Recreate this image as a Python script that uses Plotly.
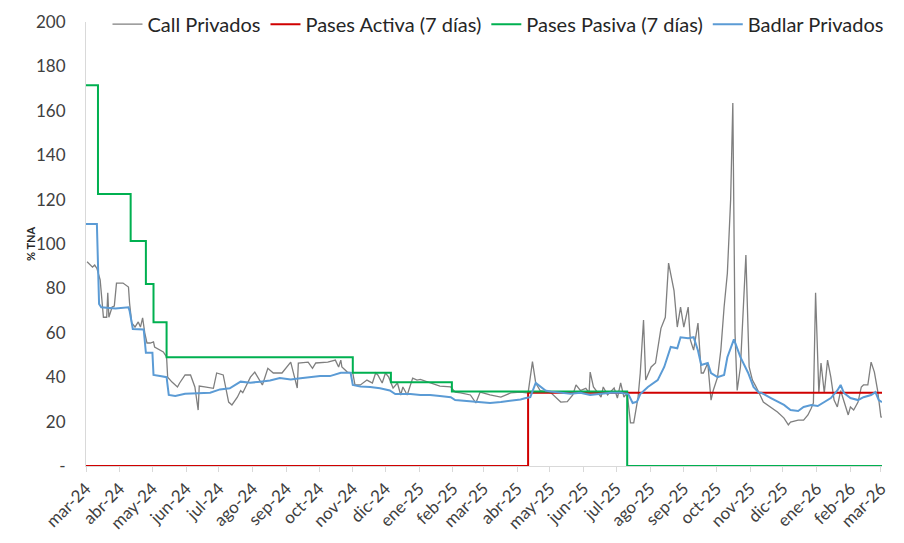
"""Tasas de interés: call, badlar y pases BCRA."""

import pandas as pd
import plotly.graph_objects as go

call_fechas = [
    "2024-03-02", "2024-03-07", "2024-03-09", "2024-03-11", "2024-03-14", "2024-03-16",
    "2024-03-17", "2024-03-20", "2024-03-21", "2024-03-22", "2024-03-25", "2024-03-27",
    "2024-03-29", "2024-04-04", "2024-04-09", "2024-04-10", "2024-04-12", "2024-04-15",
    "2024-04-18", "2024-04-20", "2024-04-22", "2024-04-24", "2024-04-26", "2024-04-29",
    "2024-05-02", "2024-05-03", "2024-05-11", "2024-05-14", "2024-05-15", "2024-05-19",
    "2024-05-24", "2024-05-26", "2024-05-31", "2024-06-05", "2024-06-09", "2024-06-12",
    "2024-06-13", "2024-06-18", "2024-06-26", "2024-06-29", "2024-07-05", "2024-07-10",
    "2024-07-13", "2024-07-18", "2024-07-21", "2024-07-23", "2024-07-27", "2024-07-30",
    "2024-08-03", "2024-08-10", "2024-08-15", "2024-08-20", "2024-08-28", "2024-09-05",
    "2024-09-11", "2024-09-12", "2024-09-21", "2024-09-25", "2024-09-28", "2024-10-09",
    "2024-10-16", "2024-10-19", "2024-10-21", "2024-10-22", "2024-10-27", "2024-11-01",
    "2024-11-03", "2024-11-08", "2024-11-14", "2024-11-19", "2024-11-22", "2024-11-24",
    "2024-11-28", "2024-12-01", "2024-12-04", "2024-12-08", "2024-12-12", "2024-12-15",
    "2024-12-17", "2024-12-21", "2024-12-26", "2024-12-30", "2025-01-02", "2025-01-11",
    "2025-01-20", "2025-01-30", "2025-02-03", "2025-02-08", "2025-02-17", "2025-02-22",
    "2025-02-26", "2025-03-07", "2025-03-17", "2025-03-26", "2025-04-04", "2025-04-11",
    "2025-04-15", "2025-04-18", "2025-04-22", "2025-05-02", "2025-05-11", "2025-05-17",
    "2025-05-22", "2025-05-25", "2025-05-29", "2025-06-03", "2025-06-06", "2025-06-07",
    "2025-06-10", "2025-06-17", "2025-06-19", "2025-06-23", "2025-06-29", "2025-07-02",
    "2025-07-05", "2025-07-08", "2025-07-11", "2025-07-14", "2025-07-17", "2025-07-21",
    "2025-07-23", "2025-07-26", "2025-07-28", "2025-08-02", "2025-08-06", "2025-08-11",
    "2025-08-15", "2025-08-18", "2025-08-23", "2025-08-26", "2025-08-29", "2025-09-01",
    "2025-09-05", "2025-09-07", "2025-09-10", "2025-09-14", "2025-09-17", "2025-09-19",
    "2025-09-23", "2025-09-26", "2025-09-28", "2025-10-02", "2025-10-05", "2025-10-08",
    "2025-10-11", "2025-10-14", "2025-10-16", "2025-10-18", "2025-10-20", "2025-10-23",
    "2025-10-28", "2025-10-31", "2025-11-03", "2025-11-06", "2025-11-09", "2025-11-11",
    "2025-11-13", "2025-11-17", "2025-11-20", "2025-11-26", "2025-12-02", "2025-12-06",
    "2025-12-08", "2025-12-15", "2025-12-20", "2025-12-24", "2025-12-27", "2025-12-29",
    "2025-12-31", "2026-01-03", "2026-01-05", "2026-01-08", "2026-01-11", "2026-01-14",
    "2026-01-17", "2026-01-20", "2026-01-23", "2026-01-26", "2026-01-30", "2026-02-01",
    "2026-02-04", "2026-02-08", "2026-02-11", "2026-02-13", "2026-02-17", "2026-02-20",
    "2026-02-23", "2026-02-26", "2026-03-01", "2026-03-02",
]
call_valores = [
    92.0, 89.6, 90.5, 89.0, 83.8, 71.6,
    67.0, 67.0, 78.0, 67.0, 71.6, 72.0,
    82.4, 82.4, 80.6, 73.4, 64.4, 62.6,
    64.9, 62.6, 66.7, 59.9, 55.4, 55.4,
    55.9, 53.6, 51.4, 49.1, 40.0, 37.8,
    35.6, 37.4, 41.0, 41.0, 35.6, 25.2,
    36.0, 35.6, 35.0, 41.9, 41.0, 28.8,
    27.5, 31.0, 34.0, 33.0, 37.4, 40.0,
    42.3, 36.5, 44.0, 41.9, 41.9, 46.8,
    35.1, 46.4, 46.8, 44.0, 46.4, 46.8,
    47.7, 44.6, 47.7, 44.6, 42.3, 41.9,
    36.5, 36.5, 38.7, 37.4, 41.9, 41.0,
    37.4, 41.9, 40.0, 35.1, 37.4, 32.0,
    35.6, 32.0, 39.6, 38.7, 39.0, 37.4,
    36.0, 35.6, 33.3, 32.9, 32.0, 28.4,
    33.3, 32.0, 31.0, 32.9, 33.3, 32.9,
    47.0, 37.4, 34.0, 33.0, 28.8, 29.0,
    32.0, 36.5, 34.0, 35.0, 33.0, 42.3,
    35.6, 31.0, 35.6, 32.0, 35.1, 30.6,
    37.4, 31.0, 32.9, 19.4, 19.4, 31.0,
    41.9, 65.8, 38.7, 44.6, 46.4, 62.0,
    67.0, 91.4, 79.0, 62.6, 71.6, 62.6,
    71.6, 56.8, 52.2, 64.4, 41.9, 41.9,
    46.4, 29.7, 34.0, 40.0, 52.2, 71.6,
    86.9, 120.0, 163.5, 60.0, 34.0, 44.6,
    95.0, 44.6, 38.7, 36.0, 33.3, 31.0,
    28.8, 27.5, 26.6, 24.3, 21.6, 18.5,
    19.8, 20.7, 20.7, 23.0, 26.0, 28.4,
    78.0, 32.9, 46.4, 32.9, 47.7, 40.0,
    29.7, 26.6, 34.0, 29.7, 23.0, 26.6,
    25.2, 28.8, 35.6, 36.5, 36.5, 46.8,
    42.3, 34.0, 22.1, 22.0,
]

badlar_fechas = [
    "2024-03-01", "2024-03-11", "2024-03-13", "2024-03-15", "2024-03-28", "2024-04-09",
    "2024-04-10", "2024-04-13", "2024-04-23", "2024-04-25", "2024-05-01", "2024-05-02",
    "2024-05-08", "2024-05-14", "2024-05-16", "2024-05-22", "2024-05-31", "2024-06-14",
    "2024-06-23", "2024-07-02", "2024-07-11", "2024-07-21", "2024-07-30", "2024-08-08",
    "2024-08-17", "2024-08-26", "2024-09-05", "2024-09-14", "2024-09-23", "2024-10-02",
    "2024-10-11", "2024-10-21", "2024-10-30", "2024-11-01", "2024-11-08", "2024-11-17",
    "2024-11-26", "2024-12-05", "2024-12-10", "2024-12-24", "2025-01-02", "2025-01-11",
    "2025-01-20", "2025-01-30", "2025-02-03", "2025-02-08", "2025-02-17", "2025-02-26",
    "2025-03-07", "2025-03-17", "2025-03-26", "2025-04-04", "2025-04-09", "2025-04-13",
    "2025-04-18", "2025-04-22", "2025-04-27", "2025-05-02", "2025-05-11", "2025-05-20",
    "2025-05-29", "2025-06-07", "2025-06-17", "2025-06-26", "2025-07-05", "2025-07-12",
    "2025-07-16", "2025-07-20", "2025-07-23", "2025-07-30", "2025-08-08", "2025-08-14",
    "2025-08-20", "2025-08-26", "2025-08-29", "2025-09-05", "2025-09-10", "2025-09-14",
    "2025-09-17", "2025-09-23", "2025-09-26", "2025-10-02", "2025-10-08", "2025-10-11",
    "2025-10-17", "2025-10-23", "2025-10-30", "2025-11-04", "2025-11-09", "2025-11-11",
    "2025-11-20", "2025-12-02", "2025-12-08", "2025-12-15", "2025-12-20", "2025-12-27",
    "2026-01-02", "2026-01-08", "2026-01-14", "2026-01-20", "2026-01-23", "2026-01-26",
    "2026-02-01", "2026-02-08", "2026-02-13", "2026-02-20", "2026-02-24", "2026-02-27",
    "2026-03-02",
]
badlar_valores = [
    109.0, 109.0, 73.0, 71.5, 71.0, 71.5,
    70.0, 61.7, 61.5, 51.0, 51.0, 41.0,
    40.5, 40.0, 32.0, 31.5, 32.5, 33.0,
    33.0, 34.5, 35.0, 38.0, 37.5, 38.0,
    38.5, 39.6, 39.0, 39.5, 40.0, 40.5,
    40.5, 42.0, 42.0, 36.5, 35.8, 35.6,
    35.0, 34.0, 32.4, 32.4, 32.0, 32.0,
    31.5, 31.0, 29.7, 29.5, 29.0, 28.5,
    28.4, 28.8, 29.3, 30.0, 30.6, 31.0,
    37.4, 36.0, 34.0, 33.5, 33.0, 32.5,
    33.0, 32.0, 32.5, 33.0, 33.0, 32.4,
    28.4, 29.0, 32.4, 35.6, 38.7, 44.6,
    53.6, 53.0, 58.0, 57.6, 58.0, 52.0,
    45.5, 46.4, 41.9, 40.0, 41.0, 49.0,
    57.0, 49.0, 42.0, 35.6, 33.0, 33.0,
    30.6, 27.5, 25.2, 24.8, 26.6, 27.5,
    27.0, 28.8, 30.6, 34.0, 36.5, 32.9,
    30.6, 29.7, 31.0, 32.0, 33.3, 29.7,
    28.8,
]

# Tasas de pases (escalones)
pasiva_fechas = [
    "2024-03-01", "2024-03-12", "2024-04-11", "2024-04-25", "2024-05-02", "2024-05-14",
    "2024-11-01", "2024-12-06", "2025-01-31", "2025-07-11", "2026-03-02",
]
pasiva_valores = [171.5, 122.5, 101.3, 82.0, 64.8, 49.0, 42.0, 37.7, 33.6, 0.0, 0.0]

activa_fechas = ["2024-03-01", "2025-04-11", "2026-03-02"]
activa_valores = [0.0, 33.0, 33.0]

mes_labels = [
    "mar-24", "abr-24", "may-24", "jun-24", "jul-24", "ago-24", "sep-24", "oct-24",
    "nov-24", "dic-24", "ene-25", "feb-25", "mar-25", "abr-25", "may-25", "jun-25",
    "jul-25", "ago-25", "sep-25", "oct-25", "nov-25", "dic-25", "ene-26", "feb-26",
    "mar-26",
]
y_ticks = list(range(0, 201, 20))
y_labels = ["-"] + [str(v) for v in y_ticks[1:]]

FONT = "Lato"

fig = go.Figure()
fig.add_trace(go.Scatter(
    x=call_fechas, y=call_valores, name="Call Privados", mode="lines",
    line=dict(color="#7f7f7f", width=1.3),
))
fig.add_trace(go.Scatter(
    x=activa_fechas, y=activa_valores, name="Pases Activa (7 días)", mode="lines",
    line=dict(color="#d00000", width=2, shape="hv"),
))
fig.add_trace(go.Scatter(
    x=pasiva_fechas, y=pasiva_valores, name="Pases Pasiva (7 días)", mode="lines",
    line=dict(color="#00b050", width=2, shape="hv"),
))
fig.add_trace(go.Scatter(
    x=badlar_fechas, y=badlar_valores, name="Badlar Privados", mode="lines",
    line=dict(color="#5b9bd5", width=2),
))

tick_fechas = pd.date_range("2024-03-01", "2026-03-01", freq="MS")

# la página agrega 8px de margen, así que la figura se achica para caber
fig.update_layout(
    width=896, height=535,
    margin=dict(l=78, r=22, t=14, b=77, autoexpand=False),
    paper_bgcolor="white", plot_bgcolor="white",
    font=dict(family=FONT, size=16, color="#404040"),
    showlegend=True,
    legend=dict(
        orientation="h", x=0.027, xanchor="left", y=0.995, yanchor="middle",
        font=dict(size=20, color="#262626"), bgcolor="rgba(0,0,0,0)",
        itemwidth=30, tracegroupgap=0,
    ),
    xaxis=dict(
        type="date", range=["2024-03-01", "2026-03-02"], automargin=False,
        tickvals=tick_fechas, ticktext=mes_labels, tickangle=-45,
        showgrid=False, showline=True, linecolor="#d9d9d9", linewidth=1,
        ticks="outside", ticklen=5, tickcolor="#d9d9d9",
        tickfont=dict(size=17, color="#404040"),
    ),
    yaxis=dict(
        range=[0, 200], tickvals=y_ticks, ticktext=y_labels, automargin=False,
        showgrid=False, zeroline=False, showline=True, linecolor="#d9d9d9", linewidth=1,
        ticklabelstandoff=16, tickfont=dict(size=17, color="#404040"),
    ),
    annotations=[dict(
        text="<b>% TNA</b>", textangle=-90, showarrow=False,
        xref="paper", yref="paper", x=-0.0704, y=0.5,
        xanchor="center", yanchor="middle",
        font=dict(size=11, color="#262626"),
    )],
)

fig.write_html("out.html")
